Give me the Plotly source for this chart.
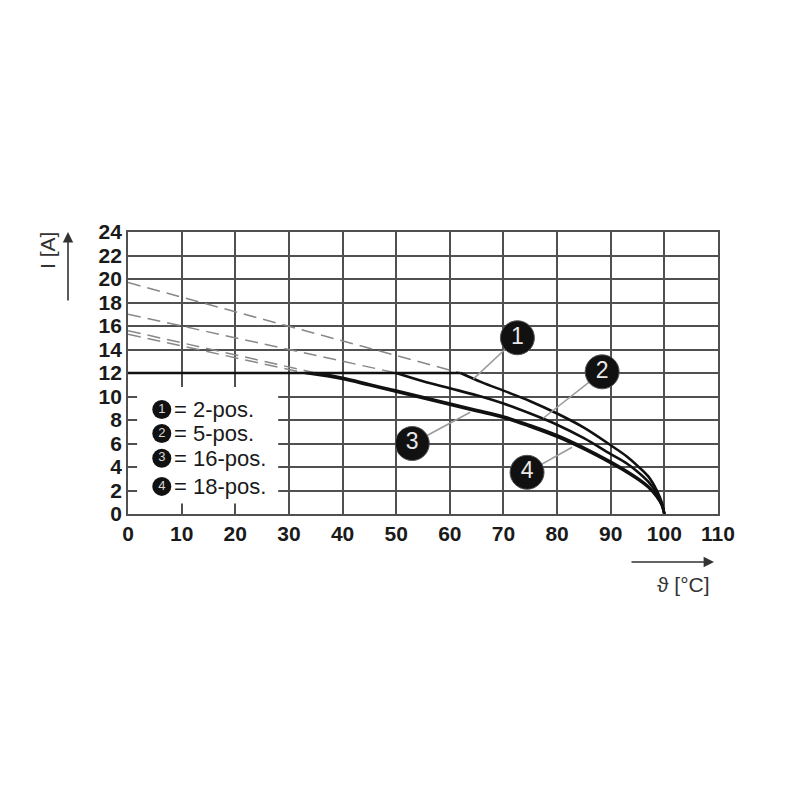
import plotly.graph_objects as go

# derating curves, current I [A] over ambient temperature [°C]
# (flat 12 A part up to the knee, then the falling part)
knee = [62, 50, 35, 33]

temp_1 = [62, 66, 70, 75, 80, 85, 90, 93, 95, 97, 98.6, 99.5, 100]
amps_1 = [12, 11.2, 10.5, 9.6, 8.55, 7.35, 5.85, 4.9, 4.1, 3.2, 2.0, 1.0, 0]

temp_2 = [50, 55, 60, 65, 70, 75, 80, 85, 90, 93, 95, 97, 98.6, 99.5, 100]
amps_2 = [12, 11.3, 10.7, 10.1, 9.4, 8.55, 7.6, 6.45, 5.1, 4.3, 3.6, 2.75, 1.75, 0.9, 0]

temp_3 = [35, 40, 45, 50, 55, 60, 65, 70, 75, 80, 85, 90, 93, 95, 97, 98.6, 99.5, 100]
amps_3 = [12, 11.6, 11.05, 10.5, 9.95, 9.4, 8.85, 8.3, 7.55, 6.7, 5.65, 4.45, 3.65, 3.05, 2.35, 1.5, 0.8, 0]

temp_4 = [33, 40, 45, 50, 55, 60, 65, 70, 75, 80, 85, 90, 93, 95, 97, 98.6, 99.5, 100]
amps_4 = [12, 11.5, 10.95, 10.4, 9.85, 9.3, 8.75, 8.2, 7.43, 6.57, 5.52, 4.33, 3.55, 2.96, 2.27, 1.44, 0.77, 0]

# dashed extrapolations above the 12 A limit
dash_temp = [[0, 62], [0, 50], [0, 35], [0, 33]]
dash_amps = [[19.7, 12], [17.0, 12], [15.6, 12], [15.3, 12]]

curve_ids = ["1", "2", "3", "4"]
legend_text = ["= 2-pos.", "= 5-pos.", "= 16-pos.", "= 18-pos."]

# callouts: label position and the point on the curve it points to
callout_xy = [(72.6, 15.0), (88.4, 12.1), (53.0, 6.0), (74.4, 3.55)]
callout_tip = [(64.4, 11.5), (77.4, 8.15), (63.8, 8.66), (82.8, 5.68)]

x_ticks = list(range(0, 111, 10))
y_ticks = list(range(0, 25, 2))

FONT = "Liberation Sans, Arial, sans-serif"

fig = go.Figure()

for xs, ys in zip(dash_temp, dash_amps):
    fig.add_trace(go.Scatter(x=xs, y=ys, mode="lines",
                             line=dict(color="#888888", width=1.5, dash="13px,7px")))

# flat part at 12 A
fig.add_trace(go.Scatter(x=[0, max(knee)], y=[12, 12], mode="lines",
                         line=dict(color="#111111", width=2.6)))

for xs, ys in [(temp_4, amps_4), (temp_3, amps_3), (temp_2, amps_2), (temp_1, amps_1)]:
    fig.add_trace(go.Scatter(x=xs, y=ys, mode="lines",
                             line=dict(color="#111111", width=2.6, shape="spline", smoothing=1.0)))

# leader lines
for (lx, ly), (tx, ty) in zip(callout_xy, callout_tip):
    fig.add_trace(go.Scatter(x=[lx, tx], y=[ly, ty], mode="lines",
                             line=dict(color="#9a9a9a", width=1.5)))

fig.add_trace(go.Scatter(
    x=[p[0] for p in callout_xy], y=[p[1] for p in callout_xy],
    mode="markers+text", text=curve_ids, textposition="middle center",
    marker=dict(size=34, color="#111111", line=dict(color="#555555", width=1)),
    textfont=dict(color="#e8e8e8", size=23, family=FONT),
))

# legend block inside the plot
leg_y = [8.9, 6.85, 4.75, 2.35]
fig.add_shape(type="rect", x0=1.7, x1=28.0, y0=0.9, y1=10.8,
              fillcolor="white", line=dict(width=0), layer="between")
fig.add_trace(go.Scatter(
    x=[6.3] * 4, y=leg_y, mode="markers+text", text=curve_ids,
    textposition="middle center",
    marker=dict(size=19, color="#111111"),
    textfont=dict(color="#d8d8d8", size=13, family=FONT),
))
for yy, txt in zip(leg_y, legend_text):
    fig.add_annotation(x=8.2, y=yy, text=txt, showarrow=False, xanchor="left",
                       yanchor="middle", font=dict(size=22, color="#1a1a1a", family=FONT))

tick_font = dict(size=21, color="#1a1a1a", family=FONT, weight="bold")

# page body has an 8px margin, so margins are shifted to put the plot at 128..718 / 232..514
fig.update_layout(
    width=800, height=800,
    margin=dict(l=120, r=90, t=224, b=294),
    paper_bgcolor="white", plot_bgcolor="white",
    showlegend=False,
    font=dict(family=FONT, color="#1a1a1a"),
    xaxis=dict(range=[0, 110], tickvals=x_ticks, showgrid=True,
               gridcolor="#505050", gridwidth=1.7, zeroline=False,
               showline=True, linecolor="#505050", linewidth=1.7, mirror=True,
               ticks="", tickfont=tick_font, fixedrange=True),
    yaxis=dict(range=[0, 24], tickvals=y_ticks, showgrid=True,
               gridcolor="#505050", gridwidth=1.7, zeroline=False,
               showline=True, linecolor="#505050", linewidth=1.7, mirror=True,
               ticks="", tickfont=tick_font, fixedrange=True),
)


# arrows and axis titles placed by screen pixel position
def px_x(p):
    return (p - 128) / (718 - 128)


def px_y(p):
    return (514 - p) / (514 - 232)


fig.add_annotation(xref="paper", yref="paper",
                   x=px_x(68), y=px_y(232), ax=0, ay=70,
                   showarrow=True, arrowhead=2, arrowsize=1.3, arrowwidth=1.6,
                   arrowcolor="#333333", text="")
fig.add_annotation(xref="paper", yref="paper", text="I [A]", showarrow=False,
                   x=px_x(47), y=px_y(251), textangle=-90,
                   xanchor="center", yanchor="middle",
                   font=dict(size=21, color="#333333"))
fig.add_annotation(xref="paper", yref="paper",
                   x=px_x(714), y=px_y(562), ax=-84, ay=0,
                   showarrow=True, arrowhead=2, arrowsize=1.3, arrowwidth=1.6,
                   arrowcolor="#333333", text="")
fig.add_annotation(xref="paper", yref="paper", text="ϑ [°C]", showarrow=False,
                   x=px_x(683), y=px_y(584),
                   xanchor="center", yanchor="middle",
                   font=dict(size=21, color="#333333"))

fig.write_html("out.html")
